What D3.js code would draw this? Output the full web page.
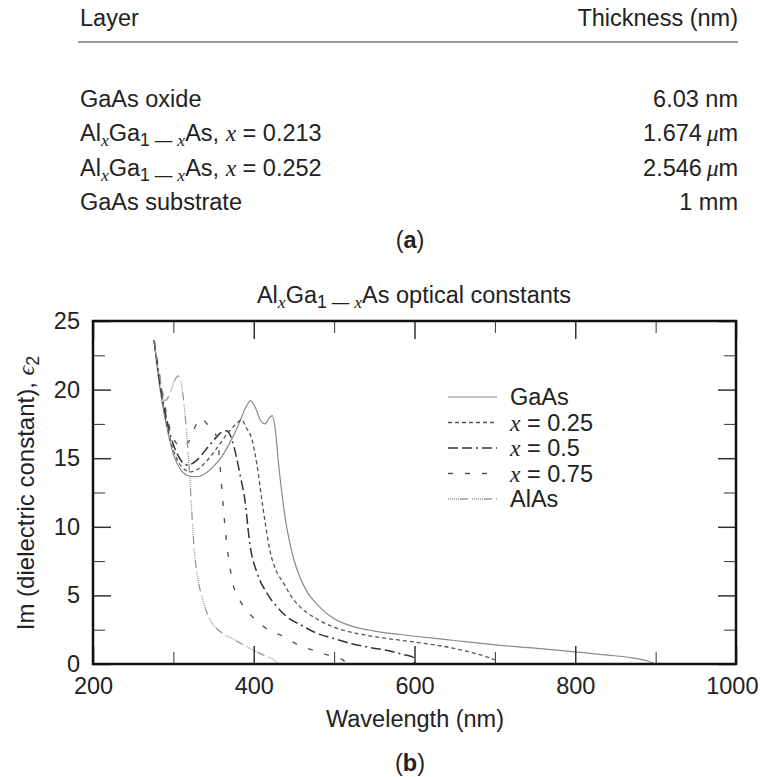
<!DOCTYPE html>
<html>
<head>
<meta charset="utf-8">
<script src="https://cdn.jsdelivr.net/npm/d3@7"></script>
<style>
  body { margin: 0; background: #fff; }
  text { font-family: "Liberation Sans", Arial, sans-serif; fill: #222; }
  .it { font-family: "Liberation Serif", "DejaVu Serif", serif; font-style: italic; }
</style>
</head>
<body>
<div id="chart"></div>
<script>
// table (a)
const layers = ['GaAs oxide', 'x = 0.213', 'x = 0.252', 'GaAs substrate'];
const thickness = ['6.03 nm', '1.674 \u03bcm', '2.546 \u03bcm', '1 mm'];

// series (b): [wavelength nm, eps2]
const gaas = [[276,23.6],[283,20.2],[290,17.8],[300,15.3],[310,14.1],[320,13.7],[330,13.65],[340,13.9],
  [350,14.4],[360,15.1],[370,16.1],[380,17.3],[390,18.7],[396,19.2],[402,18.7],[408,17.8],[414,17.5],
  [419,17.9],[423,18.1],[427,17.0],[431,14.5],[436,12.0],[440,10.3],[445,8.8],[450,7.6],[457,6.4],
  [467,5.2],[478,4.4],[500,3.3],[520,2.8],[550,2.4],[582,2.15],[644,1.75],[700,1.4],[750,1.15],
  [797,0.9],[840,0.65],[870,0.45],[889,0.24],[900,0]];
const x025 = [[276,23.6],[283,20.4],[290,18.0],[300,15.6],[310,14.4],[322,14.0],[340,14.7],[355,15.8],
  [370,17.0],[380,17.6],[385,17.8],[390,17.3],[398,16.3],[404,14.5],[410,12.0],[415,10.0],[420,8.3],
  [428,6.8],[437,5.9],[447,4.9],[457,4.2],[478,3.3],[499,2.7],[530,2.2],[561,1.9],[600,1.6],
  [644,1.2],[670,0.85],[691,0.5],[700,0.3]];
const x050 = [[276,23.6],[283,20.6],[290,18.3],[300,16.0],[310,14.8],[318,14.5],[330,14.9],[340,15.6],
  [350,16.3],[360,16.9],[366,17.0],[372,16.5],[378,15.2],[384,13.5],[389,11.95],[395,8.8],[405,6.5],
  [416,5.2],[430,4.1],[441,3.45],[460,2.8],[478,2.25],[500,1.85],[520,1.5],[545,1.2],[565,1.0],
  [585,0.7],[598,0.5],[600,0]];
const x075 = [[276,23.6],[285,20.3],[295,17.3],[305,16.0],[312,15.8],[320,16.3],[328,17.4],[334,17.9],
  [342,17.5],[350,17.0],[355,16.3],[358,14.5],[362,11.5],[366,9.0],[374,5.9],[385,4.4],[399,3.4],
  [418,2.5],[437,2.0],[455,1.4],[474,1.0],[495,0.6],[511,0.3],[515,0]];
const alas = [[276,23.6],[283,21.0],[289,19.2],[295,19.6],[301,20.6],[306,21.0],[310,20.4],[314,18.5],
  [317,16.5],[320,14.0],[323,11.0],[326,8.3],[330,6.4],[337,4.6],[345,3.3],[360,2.3],[375,1.8],
  [390,1.3],[410,0.7],[425,0.3],[432,0]];

const seriesNames = ['GaAs', 'x = 0.25', 'x = 0.5', 'x = 0.75', 'AlAs'];
const seriesData = [gaas, x025, x050, x075, alas];
const xMajor = [200, 400, 600, 800, 1000];
const xMinor = [300, 500, 700, 900];
const yMajor = [0, 5, 10, 15, 20, 25];
const yMinor = [2.5, 7.5, 12.5, 17.5, 22.5];

const styles = [
  { color: '#8a8a8a', width: 1.2, dash: null },
  { color: '#555', width: 1.3, dash: '4,3' },
  { color: '#333', width: 1.5, dash: '10,4,10,4,2,4' },
  { color: '#555', width: 1.4, dash: '5,12' },
  { color: '#999', width: 1.3, dash: '1,1,1,1,1,1,1,1,1,1,1,1,8,4' }
];

const FS = 23.5;
const width = 761, height = 777;
const svg = d3.select('#chart').append('svg')
  .attr('width', width).attr('height', height);

// helper: AlxGa1-xAs with subscripts
function alga(sel) {
  sel.append('tspan').text('Al');
  sel.append('tspan').attr('class', 'it').attr('baseline-shift', '-25%').attr('font-size', '75%').text('x');
  sel.append('tspan').text('Ga');
  sel.append('tspan').attr('baseline-shift', '-25%').attr('font-size', '75%').text('1 \u2014 ');
  sel.append('tspan').attr('class', 'it').attr('baseline-shift', '-25%').attr('font-size', '75%').text('x');
  sel.append('tspan').text('As');
}

// ---- table (a)
const tbl = svg.append('g').attr('font-size', FS);
tbl.append('text').attr('x', 80).attr('y', 26).text('Layer');
tbl.append('text').attr('x', 738).attr('y', 26).attr('text-anchor', 'end').text('Thickness (nm)');
tbl.append('line').attr('x1', 78).attr('x2', 738).attr('y1', 42).attr('y2', 42)
  .attr('stroke', '#777').attr('stroke-width', 1.5);

const rowY = d3.scalePoint().domain(d3.range(layers.length)).range([107, 210]);
layers.forEach((name, i) => {
  const t = tbl.append('text').attr('x', 80).attr('y', rowY(i));
  if (name.startsWith('x')) {
    alga(t);
    t.append('tspan').text(', ');
    t.append('tspan').attr('class', 'it').text('x');
    t.append('tspan').text(name.slice(1));
  } else {
    t.text(name);
  }
  const r = tbl.append('text').attr('x', 738).attr('y', rowY(i)).attr('text-anchor', 'end');
  const parts = thickness[i].split(' ');
  r.append('tspan').text(parts[0] + (parts[1] === '\u03bcm' ? '\u2009' : ' '));
  if (parts[1] === '\u03bcm') {
    r.append('tspan').attr('class', 'it').text('\u03bc');
    r.append('tspan').text('m');
  } else {
    r.append('tspan').text(parts[1]);
  }
});
const capA = svg.append('text').attr('x', 410).attr('y', 248).attr('text-anchor', 'middle').attr('font-size', FS);
capA.append('tspan').text('(');
capA.append('tspan').attr('font-weight', 'bold').text('a');
capA.append('tspan').text(')');

// ---- chart (b)
const x = d3.scaleLinear().domain([200, 1000]).range([93, 736]);
const y = d3.scaleLinear().domain([0, 25]).range([664, 321]);

const title = svg.append('text').attr('x', 414).attr('y', 303).attr('text-anchor', 'middle').attr('font-size', FS);
alga(title);
title.append('tspan').text(' optical constants');

const line = d3.line().x(d => x(d[0])).y(d => y(d[1])).curve(d3.curveMonotoneX);

const plot = svg.append('g');
seriesData.forEach((data, i) => {
  plot.append('path')
    .datum(data)
    .attr('d', line)
    .attr('fill', 'none')
    .attr('stroke', styles[i].color)
    .attr('stroke-width', styles[i].width)
    .attr('stroke-dasharray', styles[i].dash);
});

// ticks (inward on all four sides)
function ticks(axisFn, scale, values, size, pos, labels) {
  const a = axisFn(scale).tickValues(values).tickSize(-size).tickPadding(labels ? 13 : 0)
    .tickFormat(labels ? d3.format('d') : '');
  const g = svg.append('g').attr('transform', pos).call(a);
  g.select('.domain').remove();
  g.selectAll('.tick line').attr('stroke', '#333').attr('stroke-width', size > 14 ? 1.5 : 1);
  g.selectAll('.tick text').attr('font-size', FS).attr('fill', '#222')
    .attr('font-family', '"Liberation Sans", Arial, sans-serif');
  return g;
}
const xAxisG = ticks(d3.axisBottom, x, xMajor, 18, 'translate(0,664)', true);
// keep the last label inside the page
xAxisG.selectAll('.tick text').filter(d => d === 1000).attr('text-anchor', 'end').attr('x', 22);
ticks(d3.axisBottom, x, xMinor, 12, 'translate(0,664)', false);
ticks(d3.axisTop, x, xMajor, 18, 'translate(0,321)', false);
ticks(d3.axisTop, x, xMinor, 12, 'translate(0,321)', false);
ticks(d3.axisLeft, y, yMajor, 18, 'translate(93,0)', true);
ticks(d3.axisLeft, y, yMinor, 12, 'translate(93,0)', false);
ticks(d3.axisRight, y, yMajor, 18, 'translate(736,0)', false);
ticks(d3.axisRight, y, yMinor, 12, 'translate(736,0)', false);

svg.append('rect').attr('x', 93).attr('y', 321).attr('width', 736 - 93).attr('height', 664 - 321)
  .attr('fill', 'none').attr('stroke', '#111').attr('stroke-width', 2.5);

// legend
const leg = svg.append('g').attr('font-size', FS);
seriesNames.forEach((name, i) => {
  const ly = 397 + i * 25.5;
  leg.append('line').attr('x1', 448).attr('x2', 497).attr('y1', ly).attr('y2', ly)
    .attr('stroke', styles[i].color).attr('stroke-width', styles[i].width)
    .attr('stroke-dasharray', styles[i].dash);
  const t = leg.append('text').attr('x', 510).attr('y', ly + 8);
  if (name.startsWith('x')) {
    t.append('tspan').attr('class', 'it').text('x');
    t.append('tspan').text(name.slice(1));
  } else {
    t.text(name);
  }
});

// axis titles
svg.append('text').attr('x', 415).attr('y', 727).attr('text-anchor', 'middle').attr('font-size', FS)
  .text('Wavelength (nm)');
const yl = svg.append('text').attr('transform', 'translate(34,493) rotate(-90)')
  .attr('text-anchor', 'middle').attr('font-size', 24);
yl.append('tspan').text('Im (dielectric constant), ');
yl.append('tspan').attr('class', 'it').text('\u03f5');
yl.append('tspan').attr('baseline-shift', '-25%').attr('font-size', '75%').text('2');

const capB = svg.append('text').attr('x', 410).attr('y', 771).attr('text-anchor', 'middle').attr('font-size', FS);
capB.append('tspan').text('(');
capB.append('tspan').attr('font-weight', 'bold').text('b');
capB.append('tspan').text(')');
</script>
</body>
</html>
